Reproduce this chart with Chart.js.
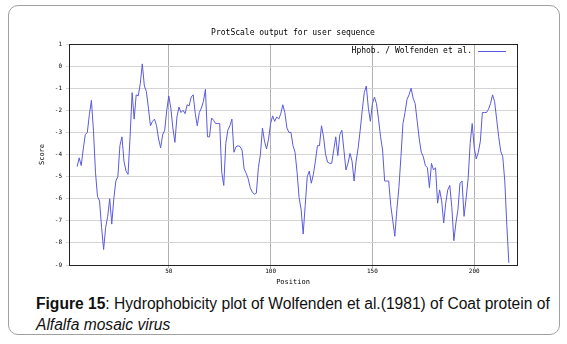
<!DOCTYPE html>
<html>
<head>
<meta charset="utf-8">
<script src="https://cdn.jsdelivr.net/npm/chart.js@4.4.0/dist/chart.umd.min.js"></script>
<style>
  body { margin: 0; width: 567px; height: 344px; background: #fff; position: relative; overflow: hidden; }
  #frame { position: absolute; left: 8px; top: 5px; width: 552px; height: 330px; border: 1px solid #a0a0a0; border-radius: 10px; box-sizing: border-box; }
  #plot { position: absolute; left: 0; top: 0; width: 567px; height: 290px; }
  #caption { position: absolute; left: 36px; top: 293px; width: 525px; font-family: "Liberation Sans", Arial, sans-serif; font-size: 15.6px; line-height: 21px; color: #111; }
</style>
</head>
<body>
<div id="frame"></div>
<div id="plot"><canvas id="myChart"></canvas></div>
<div id="caption"><b>Figure 15</b>: Hydrophobicity plot of Wolfenden et al.(1981) of Coat protein of<br><i>Alfalfa mosaic virus</i></div>
<script>
var positions = [
    5, 6, 7, 8, 9, 10, 11, 12, 13, 14,
    15, 16, 17, 18, 19, 20, 21, 22, 23, 24,
    25, 26, 27, 28, 29, 30, 31, 32, 33, 34,
    35, 36, 37, 38, 39, 40, 41, 42, 43, 44,
    45, 46, 47, 48, 49, 50, 51, 52, 53, 54,
    55, 56, 57, 58, 59, 60, 61, 62, 63, 64,
    65, 66, 67, 68, 69, 70, 71, 72, 73, 74,
    75, 76, 77, 78, 79, 80, 81, 82, 83, 84,
    85, 86, 87, 88, 89, 90, 91, 92, 93, 94,
    95, 96, 97, 98, 99, 100, 101, 102, 103, 104,
    105, 106, 107, 108, 109, 110, 111, 112, 113, 114,
    115, 116, 117, 118, 119, 120, 121, 122, 123, 124,
    125, 126, 127, 128, 129, 130, 131, 132, 133, 134,
    135, 136, 137, 138, 139, 140, 141, 142, 143, 144,
    145, 146, 147, 148, 149, 150, 151, 152, 153, 154,
    155, 156, 157, 158, 159, 160, 161, 162, 163, 164,
    165, 166, 167, 168, 169, 170, 171, 172, 173, 174,
    175, 176, 177, 178, 179, 180, 181, 182, 183, 184,
    185, 186, 187, 188, 189, 190, 191, 192, 193, 194,
    195, 196, 197, 198, 199, 200, 201, 202, 203, 204,
    205, 206, 207, 208, 209, 210, 211, 212, 213, 214,
    215, 216, 217
];
var scores = [
    -4.55, -4.15, -4.5, -3.75, -3.1, -3.0, -2.2, -1.55, -2.9, -4.8,
    -5.9, -6.1, -7.3, -8.3, -7.3, -6.8, -6.0, -7.15, -6.0, -5.2,
    -5.0, -3.6, -3.2, -4.3, -4.75, -4.9, -3.2, -1.2, -2.4, -1.3,
    -1.35, -0.8, 0.1, -0.9, -1.15, -1.9, -2.7, -2.5, -2.4, -2.7,
    -3.3, -3.7, -3.1, -2.9, -2.0, -1.35, -1.9, -2.8, -3.45, -2.3,
    -1.85, -2.1, -2.0, -2.15, -1.75, -1.8, -1.4, -1.3, -2.15, -2.7,
    -2.1, -1.9, -1.6, -1.05, -3.2, -3.2, -2.35, -2.45, -2.6, -2.6,
    -2.6, -4.8, -5.4, -3.5, -2.9, -2.7, -2.4, -3.9, -3.65, -3.6,
    -3.65, -3.8, -4.65, -4.85, -5.1, -5.5, -5.7, -5.8, -5.75, -4.6,
    -4.0, -2.8, -3.4, -3.75, -3.3, -2.6, -2.25, -2.5, -2.3, -2.4,
    -2.15, -1.75, -2.1, -2.8, -3.0, -3.0, -3.6, -3.9, -4.8, -5.95,
    -6.5, -7.6, -6.3, -5.0, -4.75, -5.3, -4.9, -4.3, -3.6, -3.6,
    -2.7, -3.2, -4.0, -4.35, -4.4, -4.4, -3.8, -3.2, -4.05, -3.1,
    -2.9, -3.8, -4.7, -4.4, -3.95, -4.3, -5.2, -4.3, -3.7, -2.9,
    -2.0, -1.2, -0.9, -1.9, -2.5, -1.7, -1.4, -1.7, -2.4, -3.2,
    -3.8, -5.2, -5.2, -5.2, -6.3, -7.0, -7.7, -6.5, -5.5, -4.1,
    -2.6, -2.1, -1.5, -1.3, -1.0, -1.45, -1.7, -2.5, -3.3, -3.9,
    -4.1, -4.5, -4.6, -5.5, -4.4, -4.7, -4.6, -6.2, -5.6, -6.1,
    -7.1, -6.2, -5.6, -5.4, -6.4, -7.9, -7.1, -6.5, -5.3, -5.2,
    -6.8, -6.0, -5.1, -3.5, -2.6, -3.7, -4.2, -3.9, -3.4, -2.1,
    -2.1, -2.1, -1.95, -1.7, -1.3, -1.6, -2.4, -3.2, -3.85, -4.1,
    -5.2, -7.2, -8.9
];
var xTicks = [50, 100, 150, 200];
var seriesName = 'Hphob. / Wolfenden et al.';

var lineColor = '#5a5ae0';
var monoFont = 'DejaVu Sans Mono';

var points = [];
for (var i = 0; i < positions.length; i++) {
    points.push({ x: positions[i], y: scores[i] });
}

// frame round the plot area + legend in the top right corner
var frameAndKey = {
    id: 'frameAndKey',
    afterDraw: function (chart) {
        var c = chart.ctx, a = chart.chartArea;
        c.save();
        c.strokeStyle = '#222';
        c.lineWidth = 1;
        c.strokeRect(Math.round(a.left) + 0.5, Math.round(a.top) + 0.5,
            Math.round(a.right - a.left), Math.round(a.bottom - a.top));
        c.font = '8px ' + monoFont;
        c.fillStyle = '#000';
        c.textAlign = 'right';
        c.textBaseline = 'middle';
        c.fillText(seriesName, a.right - 45, a.top + 7);
        c.strokeStyle = lineColor;
        c.beginPath();
        c.moveTo(a.right - 39, a.top + 7.5);
        c.lineTo(a.right - 11, a.top + 7.5);
        c.stroke();
        c.restore();
    }
};

var ctx = document.getElementById('myChart').getContext('2d');
var myChart = new Chart(ctx, {
    type: 'line',
    data: {
        datasets: [{
            label: seriesName,
            data: points,
            borderColor: lineColor,
            backgroundColor: lineColor,
            borderWidth: 1,
            pointRadius: 0,
            tension: 0,
            fill: false
        }]
    },
    options: {
        responsive: true,
        maintainAspectRatio: false,
        animation: false,
        devicePixelRatio: 1,
        layout: { padding: { left: 0, top: 0, right: 50, bottom: 0 } },
        plugins: {
            legend: { display: false },
            tooltip: { enabled: false },
            title: {
                display: true,
                text: 'ProtScale output for user sequence',
                fullSize: false,
                color: '#000',
                font: { family: monoFont, size: 8, weight: 'normal' },
                padding: { top: 28, bottom: 6.4 }
            }
        },
        scales: {
            x: {
                type: 'linear',
                min: 1,
                max: 221,
                afterFit: function (s) { s.height = 25; },
                afterBuildTicks: function (s) {
                    s.ticks = xTicks.map(function (v) { return { value: v }; });
                },
                grid: { color: '#b0b0b0', tickLength: 3, drawOnChartArea: true },
                border: { display: true, color: '#222' },
                ticks: { color: '#000', font: { family: monoFont, size: 6 }, padding: 0, maxRotation: 0 },
                title: {
                    display: true,
                    text: 'Position',
                    color: '#000',
                    font: { family: monoFont, size: 7 },
                    padding: { top: 0, bottom: 4 }
                }
            },
            y: {
                min: -9,
                max: 1,
                afterFit: function (s) { s.width = 69; },
                grid: { color: '#d4d4d4', tickLength: 3 },
                border: { display: true, color: '#222' },
                ticks: { stepSize: 1, color: '#000', font: { family: monoFont, size: 6 }, padding: 4 },
                title: {
                    display: true,
                    text: 'Score',
                    color: '#000',
                    font: { family: monoFont, size: 7 },
                    padding: { top: 38, bottom: 0 }
                }
            }
        }
    },
    plugins: [frameAndKey]
});
</script>
</body>
</html>
